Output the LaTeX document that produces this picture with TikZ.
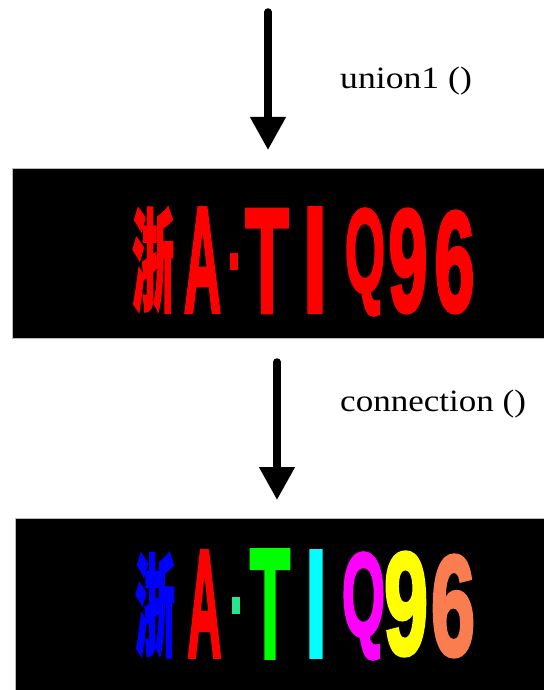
\documentclass[tikz,border=0pt]{standalone}
\usepackage{fontspec}
\usepackage{graphicx}
\setmainfont{Liberation Serif}
\newfontfamily\platefont{Liberation Sans Bold}[FakeBold=3]
\newfontfamily\cjk{Noto Sans CJK SC}[FakeBold=2]
\usetikzlibrary{arrows.meta}
\definecolor{plblue}{RGB}{0,0,255}
\definecolor{plred}{RGB}{255,0,0}
\definecolor{plmint}{RGB}{40,230,140}
\definecolor{plgreen}{RGB}{0,255,0}
\definecolor{plcyan}{RGB}{0,255,255}
\definecolor{plmagenta}{RGB}{255,0,255}
\definecolor{plyellow}{RGB}{255,255,0}
\definecolor{plorange}{RGB}{250,125,80}
\newcommand\platechar[3]{\resizebox*{#1}{#2}{#3}}
\tikzset{
  plate/.style={fill=black, draw=gray!55, line width=1pt},
  ch/.style={inner sep=0pt, outer sep=0pt, anchor=center, font=\platefont},
  dotbox/.style={inner sep=0pt, outer sep=0pt, minimum width=#1, minimum height=17pt},
  flow/.style={line width=7.5pt, line cap=round, -{Triangle[width=34pt,length=33pt]}},
  lbl/.style={anchor=base west, inner sep=0pt, font=\fontsize{31}{33}\selectfont},
}
\begin{document}
\begin{tikzpicture}[x=1pt,y=-1pt]
\useasboundingbox (0,0) rectangle (543,690);
% plates
\path[plate] (12,168) rectangle (544,338);
\node[inner sep=0pt, minimum width=532pt, minimum height=170pt] (plate1) at (278,253) {};
\path[plate] (15,518) rectangle (544,691);
\node[inner sep=0pt, minimum width=529pt, minimum height=172pt] (plate2) at (279.5,604) {};
% arrow 1
\coordinate (a1s) at (268,12);
\coordinate (a1e) at (268,150);
\draw[flow] (a1s) -- (a1e);
\node[lbl] (l1) at (340,89) {\scalebox{1.15}[1]{union1 ()}};
% arrow 2
\coordinate (a2s) at (277,362);
\coordinate (a2e) at (277,500);
\draw[flow] (a2s) -- (a2e);
\node[lbl] (l2) at (340,411) {\scalebox{1.13}[1]{connection ()}};
% plate 1 characters
\node[ch, text=plred] (p1c1) at (153,260) {\platechar{42pt}{106pt}{\cjk\bfseries 浙}};
\node[ch, text=plred] (p1c2) at (202.5,260) {\platechar{37pt}{103pt}{A}};
\node[dotbox=8pt, fill=plred] (p1c3) at (234,261.5) {};
\node[ch, text=plred] (p1c4) at (267,261) {\platechar{43pt}{102pt}{T}};
\node[ch, text=plred] (p1c5) at (315,260) {\platechar{24pt}{103pt}{I}};
\node[ch, text=plred] (p1c6) at (365,262) {\platechar{40pt}{106pt}{Q}};
\node[ch, text=plred] (p1c7) at (408,261) {\platechar{39pt}{103pt}{9}};
\node[ch, text=plred] (p1c8) at (454.5,262) {\platechar{40pt}{101pt}{6}};
% plate 2 characters
\node[ch, text=plblue] (p2c1) at (155,605) {\platechar{40pt}{105pt}{\cjk\bfseries 浙}};
\node[ch, text=plred] (p2c2) at (204.5,604) {\platechar{34pt}{105pt}{A}};
\node[dotbox=8pt, fill=plmint] (p2c3) at (236,605) {};
\node[ch, text=plgreen] (p2c4) at (270,604) {\platechar{40pt}{107pt}{T}};
\node[ch, text=plcyan] (p2c5) at (316,604) {\platechar{21pt}{105pt}{I}};
\node[ch, text=plmagenta] (p2c6) at (363.5,606) {\platechar{43pt}{106pt}{Q}};
\node[ch, text=plyellow] (p2c7) at (406,604) {\platechar{44pt}{103pt}{9}};
\node[ch, text=plorange] (p2c8) at (453,606) {\platechar{44pt}{101pt}{6}};
\end{tikzpicture}
\end{document}
